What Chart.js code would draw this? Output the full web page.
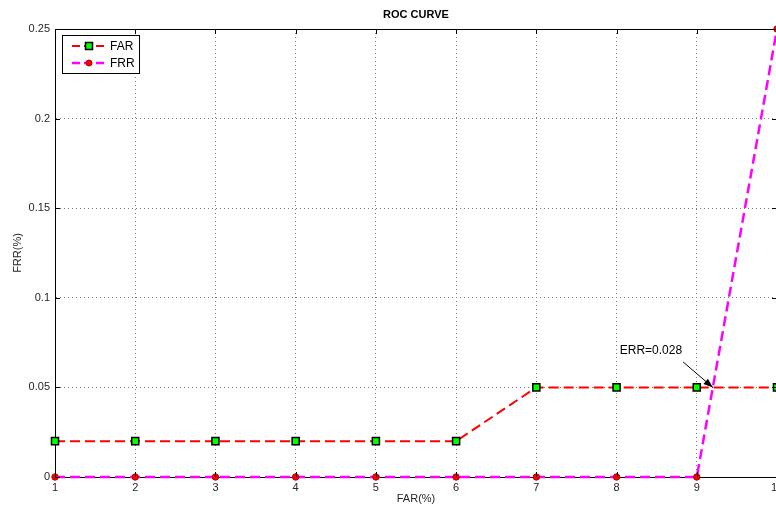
<!DOCTYPE html>
<html>
<head>
<meta charset="utf-8">
<script src="https://cdn.jsdelivr.net/npm/chart.js@4"></script>
<style>
html, body { margin: 0; padding: 0; background: #fff; overflow: hidden; }
#wrap { width: 790px; height: 512px; }
</style>
</head>
<body>
<div id="wrap"><canvas id="roc"></canvas></div>
<script>
const farPct = [1, 2, 3, 4, 5, 6, 7, 8, 9, 10];
const farValues = [0.02, 0.02, 0.02, 0.02, 0.02, 0.02, 0.05, 0.05, 0.05, 0.05];
const frrValues = [0, 0, 0, 0, 0, 0, 0, 0, 0, 0.25];
const yTicks = [0, 0.05, 0.1, 0.15, 0.2, 0.25];
const xTicks = farPct;

const errText = "ERR=0.028";
const errLabelAt = [8.04, 0.0703];
const errArrowFrom = [8.83, 0.0642];
const errArrowTo = [9.2, 0.05];

const FONT = "'Liberation Sans', Arial, Helvetica, sans-serif";

function points(xs, ys) {
  return xs.map((x, i) => ({ x: x, y: ys[i] }));
}

const farStyle = {
  borderColor: "#ff0000", borderWidth: 2, borderDash: [10, 5],
  pointStyle: "rect", pointRadius: 5, pointBackgroundColor: "#00ff00",
  pointBorderColor: "#000", pointBorderWidth: 1.5,
};
const frrStyle = {
  borderColor: "#ff00ff", borderWidth: 2.5, borderDash: [10, 5],
  pointStyle: "circle", pointRadius: 3.2, pointBackgroundColor: "#ff0000",
  pointBorderColor: "#b00000", pointBorderWidth: 1,
};

// frame, title, legend and arrow note drawn on top, matlab style
const matlabFrame = {
  id: "matlabFrame",
  afterDraw(chart) {
    const { ctx, chartArea: a, scales } = chart;
    const xs = scales.x, ys = scales.y;
    ctx.save();
    ctx.strokeStyle = "#000";
    ctx.lineWidth = 1;
    ctx.setLineDash([]);
    ctx.beginPath();
    ctx.moveTo(a.left, a.top + 0.5);
    ctx.lineTo(a.right, a.top + 0.5);
    ctx.moveTo(a.right - 0.5, a.top);
    ctx.lineTo(a.right - 0.5, a.bottom);
    // inward ticks
    xTicks.forEach((v) => {
      const px = Math.round(xs.getPixelForValue(v)) + 0.5;
      ctx.moveTo(px, a.bottom); ctx.lineTo(px, a.bottom - 5);
      ctx.moveTo(px, a.top); ctx.lineTo(px, a.top + 5);
    });
    yTicks.forEach((v) => {
      const py = Math.round(ys.getPixelForValue(v)) + 0.5;
      ctx.moveTo(a.left, py); ctx.lineTo(a.left + 5, py);
      ctx.moveTo(a.right, py); ctx.lineTo(a.right - 5, py);
    });
    ctx.stroke();

    // title
    ctx.fillStyle = "#000";
    ctx.font = "bold 11px " + FONT;
    ctx.textAlign = "center";
    ctx.textBaseline = "middle";
    ctx.fillText("ROC CURVE", (a.left + a.right) / 2, 15);

    // legend
    const lx = 62, ly = 35, lw = 77, lh = 38;
    ctx.fillStyle = "#fff";
    ctx.fillRect(lx, ly, lw, lh);
    ctx.strokeStyle = "#000";
    ctx.strokeRect(lx + 0.5, ly + 0.5, lw, lh);
    const entries = [["FAR", farStyle, ly + 11], ["FRR", frrStyle, ly + 28]];
    entries.forEach(([label, st, y]) => {
      ctx.save();
      ctx.strokeStyle = st.borderColor;
      ctx.lineWidth = st.borderWidth;
      ctx.setLineDash([8, 4]);
      ctx.beginPath();
      ctx.moveTo(lx + 10, y); ctx.lineTo(lx + 44, y);
      ctx.stroke();
      ctx.restore();
      ctx.fillStyle = st.pointBackgroundColor;
      ctx.strokeStyle = st.pointBorderColor;
      ctx.lineWidth = st.pointBorderWidth;
      ctx.beginPath();
      if (st.pointStyle === "rect") ctx.rect(lx + 23.5, y - 3.5, 7, 7);
      else ctx.arc(lx + 27, y, 3, 0, Math.PI * 2);
      ctx.fill(); ctx.stroke();
      ctx.fillStyle = "#000";
      ctx.font = "12px " + FONT;
      ctx.textAlign = "left";
      ctx.fillText(label, lx + 48, y + 1);
    });

    // ERR note
    ctx.fillStyle = "#000";
    ctx.font = "12px " + FONT;
    ctx.textAlign = "left";
    ctx.fillText(errText, xs.getPixelForValue(errLabelAt[0]), ys.getPixelForValue(errLabelAt[1]));
    const x0 = xs.getPixelForValue(errArrowFrom[0]), y0 = ys.getPixelForValue(errArrowFrom[1]);
    const x1 = xs.getPixelForValue(errArrowTo[0]), y1 = ys.getPixelForValue(errArrowTo[1]);
    ctx.strokeStyle = "#000";
    ctx.lineWidth = 1;
    ctx.beginPath();
    ctx.moveTo(x0, y0); ctx.lineTo(x1, y1);
    ctx.stroke();
    const ang = Math.atan2(y1 - y0, x1 - x0);
    ctx.beginPath();
    ctx.moveTo(x1, y1);
    ctx.lineTo(x1 - 10 * Math.cos(ang - 0.35), y1 - 10 * Math.sin(ang - 0.35));
    ctx.lineTo(x1 - 10 * Math.cos(ang + 0.35), y1 - 10 * Math.sin(ang + 0.35));
    ctx.closePath();
    ctx.fill();
    ctx.restore();
  },
};

new Chart(document.getElementById("roc"), {
  type: "line",
  data: {
    datasets: [
      Object.assign({ label: "FAR", data: points(farPct, farValues), order: 1, clip: false, tension: 0 }, farStyle),
      Object.assign({ label: "FRR", data: points(farPct, frrValues), order: 0, clip: false, tension: 0 }, frrStyle),
    ],
  },
  options: {
    responsive: true,
    maintainAspectRatio: false,
    animation: false,
    layout: { padding: { top: 29, right: 13, left: 0, bottom: 0 } },
    plugins: { legend: { display: false }, tooltip: { enabled: false } },
    scales: {
      x: {
        type: "linear", min: 1, max: 10,
        afterBuildTicks: (s) => { s.ticks = xTicks.map((v) => ({ value: v })); },
        afterFit: (s) => { s.height = 35; },
        ticks: { padding: 4, color: "#262626", font: { family: FONT, size: 11 }, callback: (v) => String(v) },
        grid: { color: "#7a7a7a", drawTicks: false },
        border: { color: "#000", width: 1, dash: [1, 3] },
        title: { display: true, text: "FAR(%)", color: "#262626", font: { family: FONT, size: 11 }, padding: { top: 0, bottom: 6 } },
      },
      y: {
        type: "linear", min: 0, max: 0.25,
        afterBuildTicks: (s) => { s.ticks = yTicks.map((v) => ({ value: v })); },
        afterFit: (s) => { s.width = 55; },
        ticks: { padding: 5, color: "#262626", font: { family: FONT, size: 11 }, callback: (v) => String(+v.toFixed(2)) },
        grid: { color: "#7a7a7a", drawTicks: false },
        border: { color: "#000", width: 1, dash: [1, 3] },
        title: { display: true, text: "FRR(%)", color: "#262626", font: { family: FONT, size: 11 }, padding: { top: 11, bottom: 0 } },
      },
    },
  },
  plugins: [matlabFrame],
});
</script>
</body>
</html>
